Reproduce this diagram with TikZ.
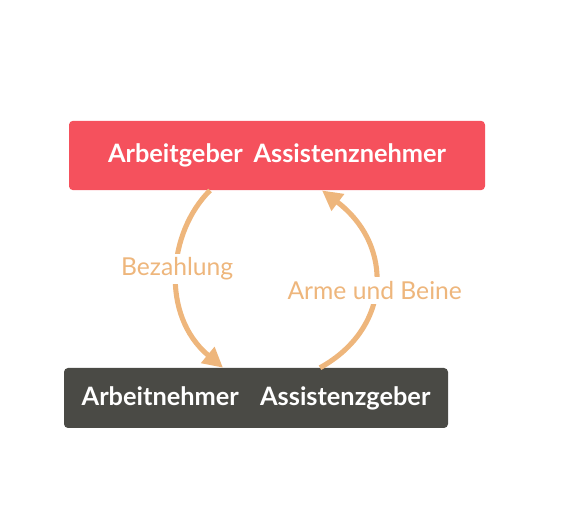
\documentclass[tikz,border=0pt]{standalone}
\usepackage{fontspec}
\setmainfont{Lato}
\usepackage{xcolor}
\usetikzlibrary{arrows.meta}

\definecolor{boxred}{HTML}{F5515D}
\definecolor{boxdark}{HTML}{4A4A45}
\definecolor{flow}{HTML}{EEB67C}

\begin{document}
\begin{tikzpicture}[x=0.75pt,y=-0.75pt]
	
	\useasboundingbox (0,0) rectangle (579,520);
	
	\tikzstyle{every node}=[inner sep=0pt, rounded corners=3pt, text=white, font=\fontsize{19}{22}\selectfont\bfseries]
	
	\node[fill=boxred, minimum width=312pt, minimum height=52pt] (geber) at (277,155.5) {Arbeitgeber\hspace{8pt}Assistenznehmer};
	\node[fill=boxdark, minimum width=288pt, minimum height=45pt] (nehmer) at (256,398) {Arbeitnehmer\hspace{16pt}Assistenzgeber};
	
	\tikzstyle{every node}=[fill=white, text=flow, inner sep=3pt, font=\fontsize{18.5}{21}\selectfont]
	\tikzstyle{flowline}=[draw=flow, line width=3.8pt, -{Triangle[length=15pt, width=15pt]}]
	
	% Bezahlung: oben links nach unten
	\draw[flowline] ([xshift=-67pt*0.75]geber.south) .. controls (168,232) and (160,315) .. node[pos=0.47] (bez) {Bezahlung} ([xshift=-33pt*0.75]nehmer.north);
	
	% Arme und Beine: unten rechts nach oben
	\draw[flowline] ([xshift=64pt*0.75]nehmer.north) .. controls (392,328) and (394,245) .. node[pos=0.47] (arme) {Arme und Beine} ([xshift=45pt*0.75]geber.south);
	
\end{tikzpicture}
\end{document}
